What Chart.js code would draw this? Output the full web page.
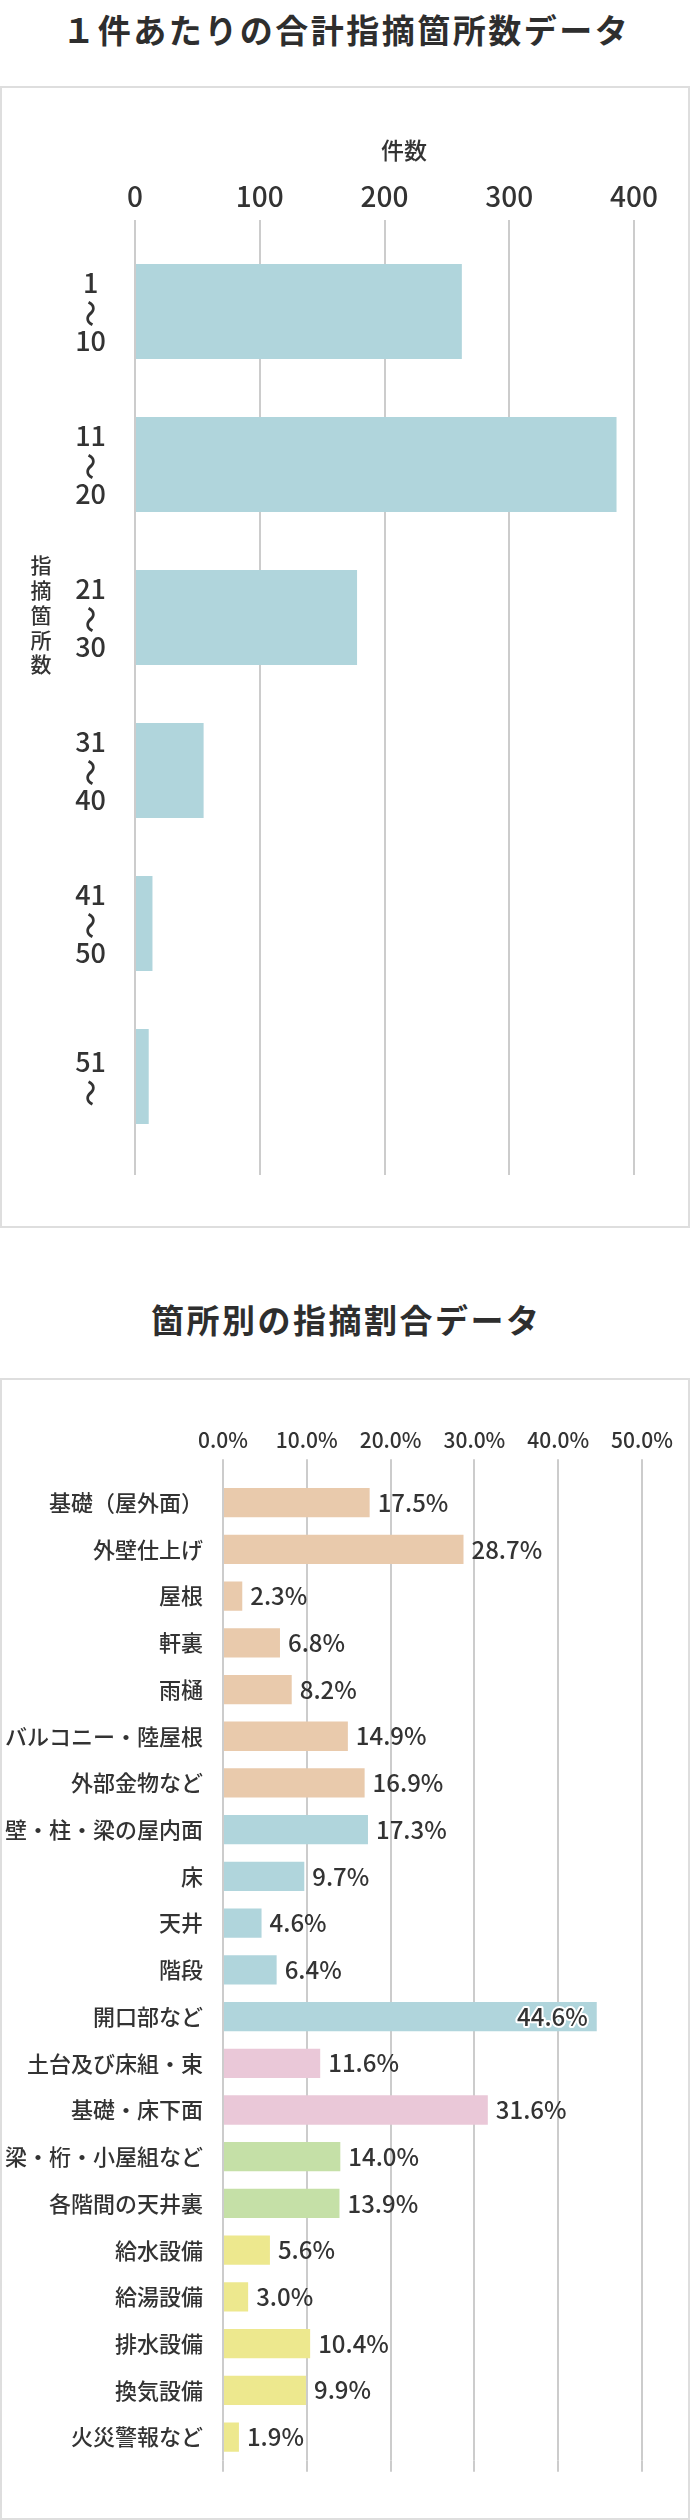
<!DOCTYPE html>
<html lang="ja">
<head>
<meta charset="utf-8">
<script src="https://cdn.jsdelivr.net/npm/chart.js@4.4.1/dist/chart.umd.min.js"></script>
<style>
html,body{margin:0;padding:0;background:#fff;}
body{width:690px;height:2520px;position:relative;overflow:hidden;font-family:'Noto Sans CJK JP','Noto Sans',sans-serif;color:#333;}
.title{position:absolute;left:0;width:690px;box-sizing:border-box;padding-left:2.5px;text-align:center;font-size:33px;font-weight:700;line-height:40px;letter-spacing:2.5px;color:#2e2e2e;white-space:nowrap;}
.box{position:absolute;left:0;width:690px;box-sizing:border-box;border:2.5px solid #dedede;}
.cv{position:absolute;left:0;}
.xtitle{position:absolute;left:354px;width:100px;text-align:center;font-family:'Noto Sans CJK JP Medium','Noto Sans CJK JP',sans-serif;font-size:23px;font-weight:500;line-height:30px;color:#333;}
.ytitle{position:absolute;writing-mode:vertical-rl;font-family:'Noto Sans CJK JP Medium','Noto Sans CJK JP',sans-serif;font-size:21px;font-weight:500;line-height:21px;letter-spacing:3.7px;color:#333;}
</style>
</head>
<body>
<div class="title" style="top:9px">１件あたりの合計指摘箇所数データ</div>
<div class="box" style="top:86px;height:1142px"></div>
<canvas id="c1" class="cv" width="690" height="1138" style="top:88px;width:690px;height:1138px"></canvas>
<div class="xtitle" style="top:134px">件数</div>
<div class="ytitle" style="left:30px;top:555px">指摘箇所数</div>

<div class="title" style="top:1299px">箇所別の指摘割合データ</div>
<div class="box" style="top:1377.5px;height:1142px"></div>
<canvas id="c2" class="cv" width="690" height="1137" style="top:1380px;width:690px;height:1137px"></canvas>

<script>
// ---- data: chart 1 ----
const WAVE = '〜';
const rangeLabels = [["1",WAVE,"10"],["11",WAVE,"20"],["21",WAVE,"30"],["31",WAVE,"40"],["41",WAVE,"50"],["51",WAVE]];
const rangeCounts = [262, 386, 178, 55, 14, 11];
const countAxisMax = 400;
const countAxisStep = 100;

// ---- data: chart 2 ----
const partLabels = ["基礎（屋外面）","外壁仕上げ","屋根","軒裏","雨樋","バルコニー・陸屋根","外部金物など",
  "壁・柱・梁の屋内面","床","天井","階段","開口部など",
  "土台及び床組・束","基礎・床下面",
  "梁・桁・小屋組など","各階間の天井裏",
  "給水設備","給湯設備","排水設備","換気設備","火災警報など"];
const partShares = [17.5, 28.7, 2.3, 6.8, 8.2, 14.9, 16.9,
  17.3, 9.7, 4.6, 6.4, 44.6,
  11.6, 31.6,
  14.0, 13.9,
  5.6, 3.0, 10.4, 9.9, 1.9];
const partGroupSizes = [7, 5, 2, 2, 5];
const shareAxisMax = 50;
const shareAxisStep = 10;

// ---- styling ----
const FONT = "'Noto Sans CJK JP Medium','Noto Sans CJK JP','Noto Sans',sans-serif";
const TEXT = '#333333';
const GRID = '#cccccc';
const groupColors = ['#E9CAAC', '#B0D5DC', '#EAC8D8', '#C5E0A7', '#EDE88E'];
const partColors = [];
partGroupSizes.forEach((n, g) => { for (let i = 0; i < n; i++) partColors.push(groupColors[g]); });

const gridExtend = {
  id: 'gridExtend',
  beforeDatasetsDraw(chart, args, opts) {
    const ext = opts.length || 0;
    if (!ext) return;
    const xs = chart.scales.x, ctx = chart.ctx, a = chart.chartArea;
    const w = opts.width || 2;
    ctx.save();
    ctx.strokeStyle = opts.color;
    ctx.lineWidth = w;
    xs.ticks.forEach((t, i) => {
      const p = xs.getPixelForTick(i);
      const px = Math.round(p - w / 2) + w / 2;
      ctx.beginPath();
      ctx.moveTo(px, a.bottom);
      ctx.lineTo(px, a.bottom + ext);
      ctx.stroke();
    });
    ctx.restore();
  }
};

// draws the "〜" line of each multi-line category label turned upright (as in vertical Japanese text)
const uprightWave = {
  id: 'uprightWave',
  afterDraw(chart, args, opts) {
    if (!opts.enabled) return;
    const ys = chart.scales.y, ctx = chart.ctx;
    const items = ys.getLabelItems();
    ctx.save();
    items.forEach((it, i) => {
      const lines = rangeLabels[i];
      const k = lines.indexOf(WAVE);
      if (k < 0) return;
      const x = it.options.translation[0];
      const y = it.options.translation[1] + it.textOffset + k * it.font.lineHeight;
      ctx.save();
      ctx.translate(x + (opts.dx || 0), y + (opts.dy || 0));
      ctx.rotate(Math.PI / 2);
      ctx.font = it.font.string;
      ctx.fillStyle = TEXT;
      ctx.textAlign = 'center';
      ctx.textBaseline = 'middle';
      ctx.fillText(WAVE, 0, 0);
      ctx.restore();
    });
    ctx.restore();
  }
};

const valueLabels = {
  id: 'valueLabels',
  afterDatasetsDraw(chart, args, opts) {
    if (!opts.enabled) return;
    const ctx = chart.ctx, meta = chart.getDatasetMeta(0), ds = chart.data.datasets[0], a = chart.chartArea;
    ctx.save();
    ctx.font = (opts.weight || 400) + ' ' + opts.size + 'px ' + FONT;
    ctx.textBaseline = 'middle';
    meta.data.forEach((bar, i) => {
      const txt = ds.data[i].toFixed(1) + '%';
      const w = ctx.measureText(txt).width;
      if (bar.x + opts.offset + w > a.right) {
        ctx.textAlign = 'right';
        const x = bar.x - opts.inset;
        ctx.lineWidth = 4;
        ctx.lineJoin = 'round';
        ctx.strokeStyle = '#ffffff';
        ctx.strokeText(txt, x, bar.y);
        ctx.fillStyle = opts.color;
        ctx.fillText(txt, x, bar.y);
      } else {
        ctx.textAlign = 'left';
        ctx.fillStyle = opts.color;
        ctx.fillText(txt, bar.x + opts.offset, bar.y);
      }
    });
    ctx.restore();
  }
};

Chart.defaults.font.family = FONT;
Chart.defaults.color = TEXT;

new Chart(document.getElementById('c1'), {
  type: 'bar',
  data: {
    labels: rangeLabels,
    datasets: [{ data: rangeCounts, backgroundColor: '#B0D5DC', borderWidth: 0,
      barPercentage: 0.62, categoryPercentage: 1.0 }]
  },
  plugins: [gridExtend, uprightWave],
  options: {
    indexAxis: 'y',
    responsive: false,
    animation: false,
    devicePixelRatio: 1,
    layout: { padding: { top: 0, left: 0, right: 56, bottom: 73 } },
    plugins: {
      legend: { display: false },
      tooltip: { enabled: false },
      gridExtend: { length: 22, color: GRID, width: 2 },
      uprightWave: { enabled: true, dx: 0, dy: 2 }
    },
    scales: {
      x: {
        position: 'top',
        min: 0, max: countAxisMax,
        afterFit: (s) => { s.height = 147; },
        grid: { color: GRID, lineWidth: 2, drawTicks: true, tickLength: 15, tickColor: GRID },
        border: { display: false },
        ticks: { stepSize: countAxisStep, padding: 7, color: TEXT,
          font: { family: FONT, size: 28, weight: 500, lineHeight: 1.2 } }
      },
      y: {
        afterFit: (s) => { s.width = 135; },
        grid: { display: false },
        border: { display: false },
        ticks: { crossAlign: 'center', padding: 21, color: TEXT,
          callback: function (v) { return this.getLabelForValue(v).map(l => (l === WAVE ? ' ' : l)); },
          font: { family: FONT, size: 27, weight: 500, lineHeight: 29 / 27 } }
      }
    }
  }
});

new Chart(document.getElementById('c2'), {
  type: 'bar',
  data: {
    labels: partLabels,
    datasets: [{ data: partShares, backgroundColor: partColors, borderWidth: 0,
      barPercentage: 0.627, categoryPercentage: 1.0 }]
  },
  plugins: [gridExtend, valueLabels],
  options: {
    indexAxis: 'y',
    responsive: false,
    animation: false,
    devicePixelRatio: 1,
    layout: { padding: { top: 0, left: 0, right: 48, bottom: 56.6 } },
    plugins: {
      legend: { display: false },
      tooltip: { enabled: false },
      gridExtend: { length: 11.3, color: GRID, width: 2 },
      valueLabels: { enabled: true, size: 24, weight: 500, offset: 8, inset: 9, color: TEXT }
    },
    scales: {
      x: {
        position: 'top',
        min: 0, max: shareAxisMax,
        afterFit: (s) => { s.height = 99.3; },
        grid: { color: GRID, lineWidth: 2, drawTicks: true, tickLength: 20, tickColor: GRID },
        border: { display: false },
        ticks: { stepSize: shareAxisStep, padding: 7, color: TEXT,
          callback: (v) => Number(v).toFixed(1) + '%',
          font: { family: FONT, size: 21, weight: 500, lineHeight: 1.2 } }
      },
      y: {
        afterFit: (s) => { s.width = 223; },
        grid: { display: false },
        border: { display: false },
        ticks: { padding: 12, color: TEXT, autoSkip: false,
          font: { family: FONT, size: 22, weight: 500, lineHeight: 1.2 } }
      }
    }
  }
});
</script>
</body>
</html>
